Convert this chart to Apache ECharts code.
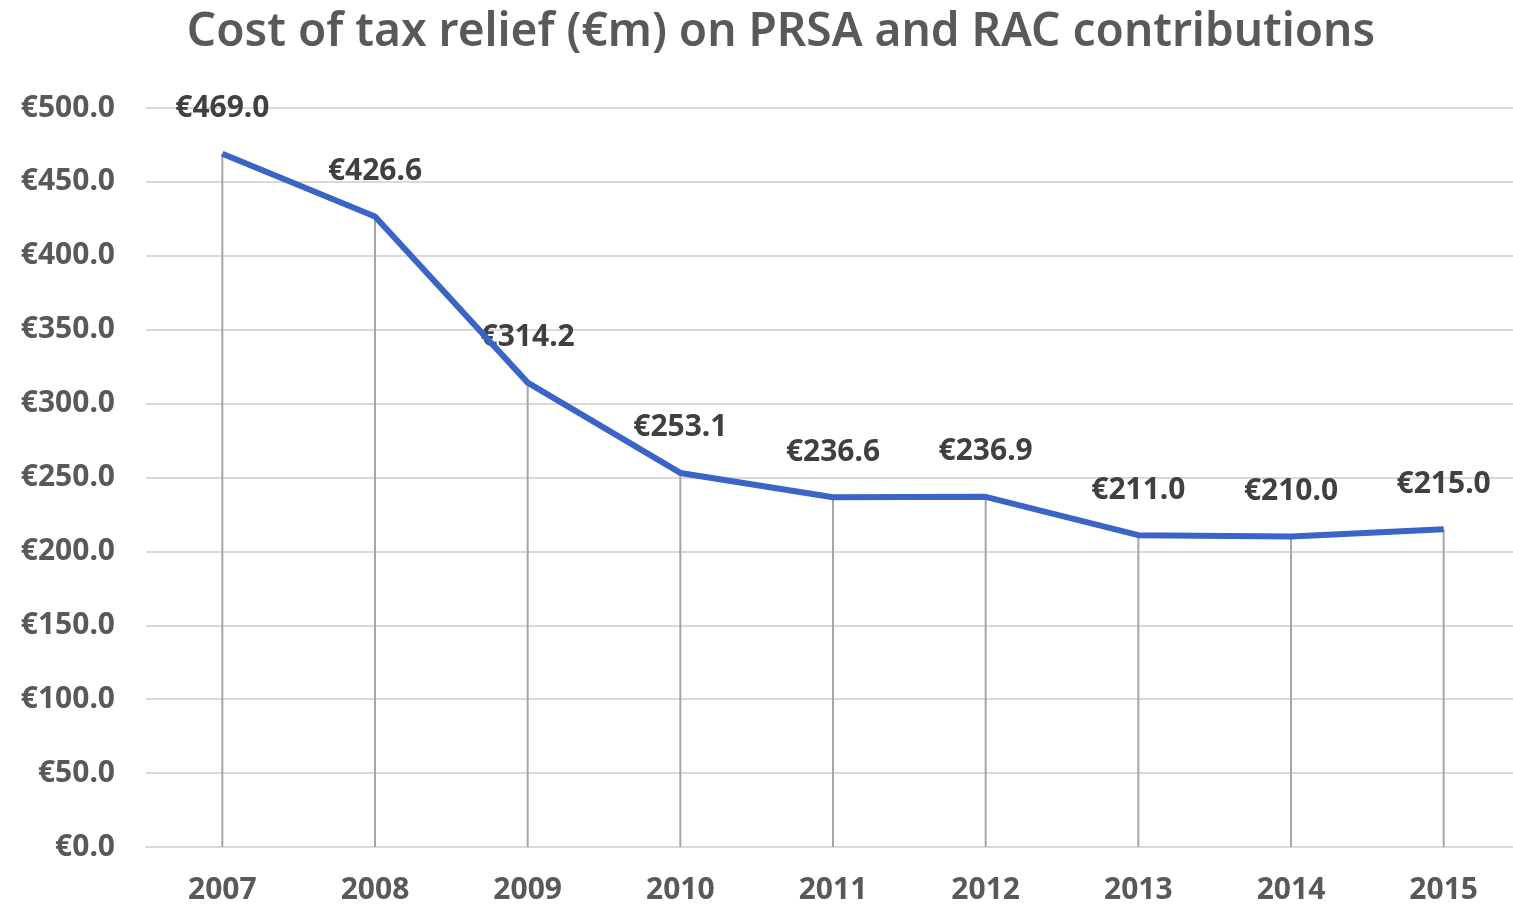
<!DOCTYPE html>
<html>
<head>
<meta charset="utf-8">
<script src="https://cdn.jsdelivr.net/npm/echarts@6/dist/echarts.min.js"></script>
<style>
  html, body { margin: 0; padding: 0; background: #fff; overflow: hidden; }
  #main { width: 1520px; height: 909px; }
</style>
</head>
<body>
<div id="main"></div>
<script>
// data
const years = ['2007', '2008', '2009', '2010', '2011', '2012', '2013', '2014', '2015']
const cost = [469.0, 426.6, 314.2, 253.1, 236.6, 236.9, 211.0, 210.0, 215.0]
const yMin = 0
const yMax = 500
const yStep = 50

const grey = '#595959'
const font = '"Noto Sans", sans-serif'

let myChart = echarts.init(document.getElementById('main'))

let option = {
    backgroundColor: '#fff',
    animation: false,
    title: {
        text: 'Cost of tax relief (€m) on PRSA and RAC contributions',
        left: 776,
        textAlign: 'center',
        top: 5,
        textStyle: { color: grey, fontFamily: font, fontSize: 46, fontWeight: 600 }
    },
    grid: { left: 146, top: 108, right: 0, bottom: 62 },
    xAxis: {
        type: 'category',
        data: years,
        boundaryGap: true,
        axisLine: { lineStyle: { color: '#d9d9d9', width: 2 } },
        axisTick: { show: false },
        axisLabel: {
            color: grey, fontFamily: font, fontSize: 30, fontWeight: 'bold', margin: 28
        }
    },
    yAxis: {
        type: 'value',
        min: yMin,
        max: yMax,
        interval: yStep,
        axisLine: { show: false },
        axisTick: { show: false },
        splitLine: { lineStyle: { color: '#d9d9d9', width: 2 } },
        axisLabel: {
            color: grey, fontFamily: font, fontSize: 30, fontWeight: 'bold', margin: 31,
            formatter: v => '€' + v.toFixed(1)
        }
    },
    series: [
        {
            // vertical drop lines, also carrying the value labels
            type: 'bar',
            data: cost,
            barWidth: 2,
            itemStyle: { color: '#a6a6a6' },
            z: 1,
            silent: true,
            label: {
                show: true,
                position: 'top',
                distance: 30,
                color: '#404040',
                fontFamily: font,
                fontSize: 30,
                fontWeight: 'bold',
                formatter: p => '€' + p.value.toFixed(1)
            }
        },
        {
            type: 'line',
            data: cost,
            showSymbol: false,
            lineStyle: { color: '#3a64c6', width: 6 },
            z: 3
        }
    ]
}

myChart.setOption(option)
</script>
</body>
</html>
